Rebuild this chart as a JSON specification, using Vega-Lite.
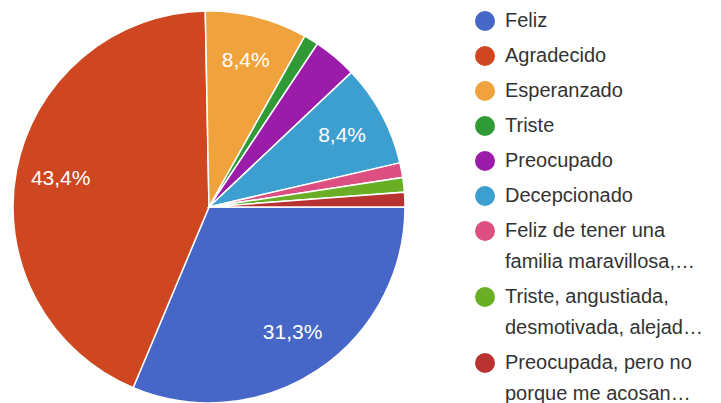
{
  "$schema": "https://vega.github.io/schema/vega-lite/v6.json",
  "width": 418,
  "height": 400,
  "autosize": {"type": "none"},
  "padding": {"top": 7, "left": 0, "right": 303, "bottom": 0},
  "background": "white",
  "view": {"stroke": null},
  "config": {"style": {"guide-label": {"lineHeight": 31}}},
  "data": {
    "values": [
      {"orden": 1, "respuesta": "Feliz", "votos": 26, "etiqueta": "31,3%"},
      {"orden": 2, "respuesta": "Agradecido", "votos": 36, "etiqueta": "43,4%"},
      {"orden": 3, "respuesta": "Esperanzado", "votos": 7, "etiqueta": "8,4%"},
      {"orden": 4, "respuesta": "Triste", "votos": 1, "etiqueta": ""},
      {"orden": 5, "respuesta": "Preocupado", "votos": 3, "etiqueta": ""},
      {"orden": 6, "respuesta": "Decepcionado", "votos": 7, "etiqueta": "8,4%"},
      {"orden": 7, "respuesta": "Feliz de tener una\nfamilia maravillosa,…", "votos": 1, "etiqueta": ""},
      {"orden": 8, "respuesta": "Triste, angustiada,\ndesmotivada, alejad…", "votos": 1, "etiqueta": ""},
      {"orden": 9, "respuesta": "Preocupada, pero no\nporque me acosan…", "votos": 1, "etiqueta": ""}
    ]
  },
  "encoding": {
    "theta": {"field": "votos", "type": "quantitative", "stack": true, "scale": {"range": [1.5707963, 7.8539816]}},
    "order": {"field": "orden", "type": "quantitative"},
    "color": {
      "field": "respuesta",
      "type": "nominal",
      "scale": {
        "domain": ["Feliz", "Agradecido", "Esperanzado", "Triste", "Preocupado", "Decepcionado", "Feliz de tener una\nfamilia maravillosa,…", "Triste, angustiada,\ndesmotivada, alejad…", "Preocupada, pero no\nporque me acosan…"],
        "range": ["#4667c8", "#cf4720", "#f0a33c", "#2f9a36", "#9a1ca8", "#3d9fd0", "#dd4f80", "#6aae26", "#b83232"]
      },
      "legend": {
        "title": null,
        "orient": "none",
        "legendX": 475,
        "legendY": 4,
        "symbolType": "circle",
        "symbolSize": 400,
        "symbolStrokeWidth": 0,
        "labelFont": "Liberation Sans",
        "labelFontSize": 20,
        "labelColor": "#333333",
        "labelOffset": 10,
        "labelLimit": 300,
        "rowPadding": 15,
        "labelExpr": "split(datum.label, '\\n')",
        "encode": {"labels": {"update": {"lineHeight": {"value": 31}}}}
      }
    }
  },
  "layer": [
    {
      "mark": {"type": "arc", "outerRadius": 196, "stroke": "white", "strokeWidth": 1.5}
    },
    {
      "mark": {"type": "text", "radius": 151, "fill": "white", "font": "Liberation Sans", "fontSize": 21},
      "encoding": {
        "text": {"field": "etiqueta", "type": "nominal"},
        "color": {"value": "white"}
      }
    }
  ]
}
